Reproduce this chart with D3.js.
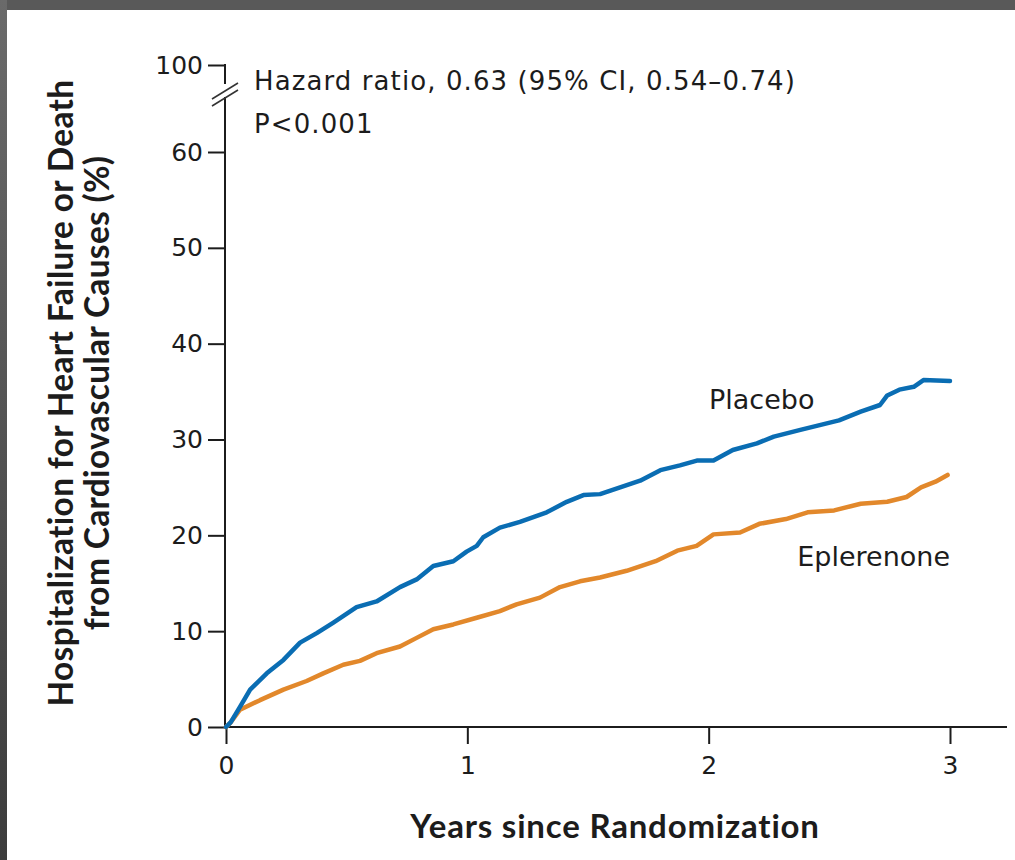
<!DOCTYPE html>
<html>
<head>
<meta charset="utf-8">
<script src="https://cdn.jsdelivr.net/npm/d3@7"></script>
<style>
  html, body { margin: 0; padding: 0; background: #ffffff; }
  svg { display: block; }
</style>
</head>
<body>
<svg id="chart" width="1015" height="860"></svg>
<script>
// ---------- data ----------
const placeboYears = [0, 0.02, 0.058, 0.10, 0.169, 0.238, 0.307, 0.376, 0.445, 0.541, 0.624, 0.721, 0.79, 0.859, 0.942, 0.997, 1.039, 1.066, 1.135, 1.218, 1.329, 1.412, 1.481, 1.55, 1.633, 1.716, 1.80, 1.881, 1.951, 2.02, 2.10, 2.20, 2.27, 2.38, 2.46, 2.54, 2.63, 2.71, 2.74, 2.79, 2.85, 2.89, 3.0];
const placeboPct   = [0, 0.5, 2.1, 3.9, 5.6, 7.0, 8.8, 9.8, 10.9, 12.5, 13.1, 14.6, 15.4, 16.8, 17.3, 18.3, 18.9, 19.8, 20.8, 21.4, 22.4, 23.5, 24.2, 24.3, 25.0, 25.7, 26.8, 27.3, 27.8, 27.8, 28.9, 29.6, 30.3, 31.0, 31.5, 32.0, 32.9, 33.6, 34.6, 35.2, 35.5, 36.2, 36.1];
const eplerenoneYears = [0, 0.017, 0.058, 0.141, 0.238, 0.334, 0.403, 0.486, 0.555, 0.624, 0.721, 0.79, 0.859, 0.942, 1.039, 1.135, 1.204, 1.301, 1.384, 1.467, 1.55, 1.66, 1.78, 1.87, 1.95, 2.02, 2.13, 2.21, 2.32, 2.41, 2.52, 2.63, 2.74, 2.82, 2.88, 2.94, 2.99];
const eplerenonePct   = [0, 0.4, 1.8, 2.8, 3.9, 4.8, 5.6, 6.5, 6.9, 7.7, 8.4, 9.3, 10.2, 10.7, 11.4, 12.1, 12.8, 13.5, 14.6, 15.2, 15.6, 16.3, 17.3, 18.4, 18.9, 20.1, 20.3, 21.2, 21.7, 22.4, 22.6, 23.3, 23.5, 24.0, 25.0, 25.6, 26.3];
const seriesNames = ["Placebo", "Eplerenone"];
const xTicks = [0, 1, 2, 3];
const yTicks = [0, 10, 20, 30, 40, 50, 60, 100];
const xTitle = "Years since Randomization";
const yTitleLines = ["Hospitalization for Heart Failure or Death", "from Cardiovascular Causes (%)"];
const annotationLines = ["Hazard ratio, 0.63 (95% CI, 0.54\u20130.74)", "P<0.001"];

// ---------- layout ----------
const svg = d3.select("#chart");
const font = "'DejaVu Sans', 'Open Sans', sans-serif";
const boldFont = "Lato, 'Open Sans', sans-serif";
const ink = "#1c1c1c";
const blue = "#0a6db3";
const orange = "#e2882b";

// frame (gray border at top and left)
const defs = svg.append("defs");
const grad = defs.append("linearGradient").attr("id", "leftgrad").attr("x1", 0).attr("y1", 0).attr("x2", 0).attr("y2", 1);
grad.append("stop").attr("offset", "0%").attr("stop-color", "#6a6a6a");
grad.append("stop").attr("offset", "100%").attr("stop-color", "#3c3c3c");
svg.append("rect").attr("x", 0).attr("y", 0).attr("width", 1015).attr("height", 860).attr("fill", "#ffffff");
svg.append("rect").attr("x", 0).attr("y", 0).attr("width", 1015).attr("height", 10).attr("fill", "#595959");
svg.append("rect").attr("x", 0).attr("y", 0).attr("width", 7).attr("height", 860).attr("fill", "url(#leftgrad)");

const x = d3.scaleLinear().domain([0, 3]).range([226, 950]);
const y = d3.scaleLinear().domain([0, 60, 100]).range([727, 152, 65]);
const axisLeftX = 225;
const axisY = 727;

// x axis
const gx = svg.append("g").attr("transform", `translate(0,${axisY})`)
  .call(d3.axisBottom(x).tickValues(xTicks).tickSize(17).tickPadding(12).tickFormat(d3.format("d")));
gx.select(".domain").remove();
gx.selectAll(".tick line").attr("stroke", ink).attr("stroke-width", 2);
gx.selectAll(".tick text").attr("font-family", font).attr("font-size", 25).attr("fill", ink);
svg.append("line").attr("x1", axisLeftX).attr("x2", 1007).attr("y1", axisY).attr("y2", axisY)
  .attr("stroke", ink).attr("stroke-width", 2);

// y axis
const gy = svg.append("g").attr("transform", `translate(${axisLeftX},0)`)
  .call(d3.axisLeft(y).tickValues(yTicks).tickSize(17).tickPadding(5).tickFormat(d3.format("d")));
gy.select(".domain").remove();
gy.selectAll(".tick line").attr("stroke", ink).attr("stroke-width", 2);
gy.selectAll(".tick text").attr("font-family", font).attr("font-size", 25).attr("fill", ink);
// axis line with break
svg.append("line").attr("x1", axisLeftX).attr("x2", axisLeftX).attr("y1", y(100) - 1).attr("y2", 84)
  .attr("stroke", ink).attr("stroke-width", 2);
svg.append("line").attr("x1", axisLeftX).attr("x2", axisLeftX).attr("y1", 97).attr("y2", axisY)
  .attr("stroke", ink).attr("stroke-width", 2);
[0, 7].forEach(off => {
  svg.append("line").attr("x1", 212).attr("y1", 99 + off).attr("x2", 238).attr("y2", 83 + off)
    .attr("stroke", "#333").attr("stroke-width", 1.6);
});

// curves
const line = d3.line().x(d => x(d[0])).y(d => y(d[1])).curve(d3.curveLinear);
const placebo = placeboYears.map((t, i) => [t, placeboPct[i]]);
const eplerenone = eplerenoneYears.map((t, i) => [t, eplerenonePct[i]]);
svg.append("path").datum(eplerenone).attr("d", line).attr("fill", "none")
  .attr("stroke", orange).attr("stroke-width", 4.5).attr("stroke-linejoin", "round").attr("stroke-linecap", "round");
svg.append("path").datum(placebo).attr("d", line).attr("fill", "none")
  .attr("stroke", blue).attr("stroke-width", 4.5).attr("stroke-linejoin", "round").attr("stroke-linecap", "round");

// series labels
svg.append("text").attr("x", 709).attr("y", 409).text(seriesNames[0])
  .attr("font-family", font).attr("font-size", 27).attr("fill", ink);
svg.append("text").attr("x", 950).attr("y", 566).attr("text-anchor", "end").text(seriesNames[1])
  .attr("font-family", font).attr("font-size", 27).attr("fill", ink);

// annotation
annotationLines.forEach((t, i) => {
  svg.append("text").attr("x", 254).attr("y", 90 + i * 43).text(t)
    .attr("font-family", font).attr("font-size", 26).attr("letter-spacing", 1.1).attr("fill", ink);
});

// titles
svg.append("text").attr("x", 615).attr("y", 838).attr("text-anchor", "middle").text(xTitle)
  .attr("font-family", boldFont).attr("font-weight", 700).attr("font-size", 33)
  .attr("letter-spacing", 0.8).attr("fill", ink);
yTitleLines.forEach((t, i) => {
  svg.append("text").attr("transform", `translate(${73 + i * 36},393) rotate(-90)`)
    .attr("text-anchor", "middle").text(t)
    .attr("font-family", boldFont).attr("font-weight", 700).attr("font-size", 33.5)
    .attr("letter-spacing", 0.3).attr("fill", ink);
});
</script>
</body>
</html>
